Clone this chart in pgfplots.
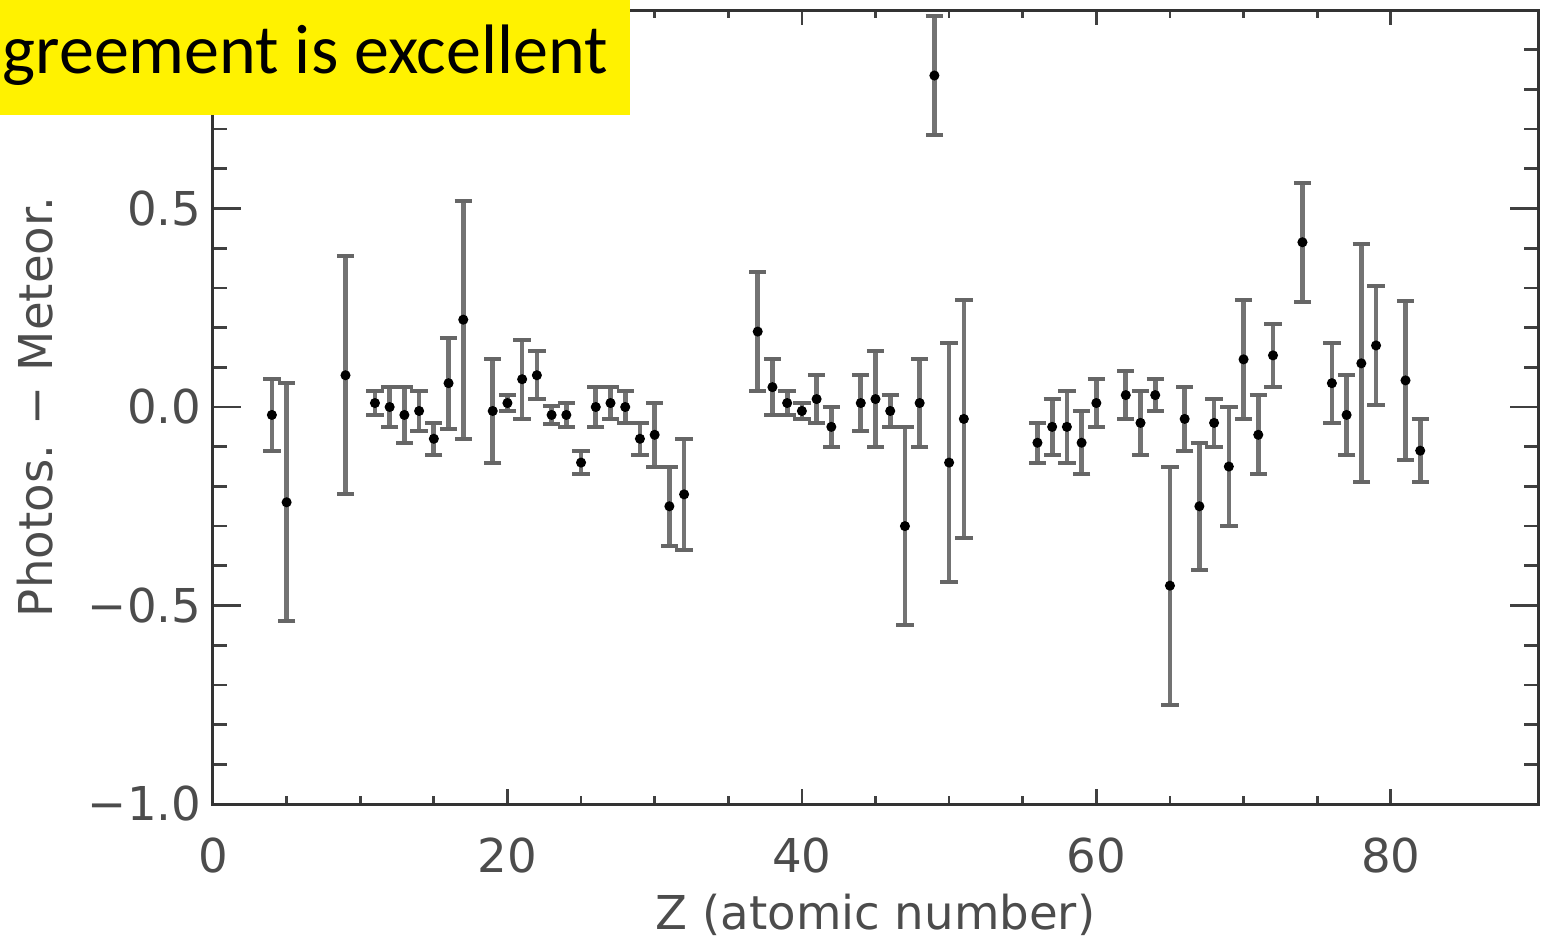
\documentclass[border=0pt]{standalone}
\usepackage{pgfplots}
\usepackage{pgfplotstable}
\pgfplotsset{compat=1.18}
\usepackage{fontspec}
\setmainfont{DejaVu Sans}
\newfontfamily\calibri{Carlito}

% Z, photospheric minus meteoritic abundance, error
\pgfplotstableread{
z d e
4 -0.02 0.09
5 -0.24 0.30
9 0.08 0.30
11 0.01 0.03
12 0.00 0.05
13 -0.02 0.07
14 -0.01 0.05
15 -0.08 0.04
16 0.06 0.115
17 0.22 0.30
19 -0.01 0.13
20 0.01 0.02
21 0.07 0.10
22 0.08 0.06
23 -0.02 0.022
24 -0.02 0.03
25 -0.14 0.03
26 0.00 0.05
27 0.01 0.04
28 0.00 0.04
29 -0.08 0.04
30 -0.07 0.08
31 -0.25 0.10
32 -0.22 0.14
37 0.19 0.15
38 0.05 0.07
39 0.01 0.03
40 -0.01 0.02
41 0.02 0.06
42 -0.05 0.05
44 0.01 0.07
45 0.02 0.12
46 -0.01 0.04
47 -0.30 0.25
48 0.01 0.11
49 0.835 0.15
50 -0.14 0.30
51 -0.03 0.30
56 -0.09 0.05
57 -0.05 0.07
58 -0.05 0.09
59 -0.09 0.08
60 0.01 0.06
62 0.03 0.06
63 -0.04 0.08
64 0.03 0.04
65 -0.45 0.30
66 -0.03 0.08
67 -0.25 0.16
68 -0.04 0.06
69 -0.15 0.15
70 0.12 0.15
71 -0.07 0.10
72 0.13 0.08
74 0.415 0.15
76 0.06 0.10
77 -0.02 0.10
78 0.11 0.30
79 0.155 0.15
81 0.067 0.20
82 -0.11 0.08
}\abund

\begin{document}
\begin{tikzpicture}
\begin{axis}[
    name=ax,
    scale only axis,
    width=397.5pt, height=238.2pt,
    xmin=0, xmax=90, ymin=-1, ymax=1,
    xtick={0,20,40,60,80}, xticklabels={0,20,40,60,80},
    minor x tick num=3,
    ytick={-1,-0.5,0,0.5,1}, yticklabels={−1.0,−0.5,0.0,0.5,{}},
    minor y tick num=4,
    tick align=inside, tick pos=both,
    axis line style={black!80, line width=0.9pt},
    tick style={black!75, line width=0.8pt},
    major tick length=8.4pt, minor tick length=4.2pt,
    xtick style={/pgfplots/major tick length=4.5pt, /pgfplots/minor tick length=2.4pt},
    ticklabel style={font=\fontsize{14}{16}\selectfont, text=black!70},
    xticklabel style={yshift=-6.5pt},
    xlabel={Z (atomic number)},
    ylabel={Photos. − Meteor.},
    label style={font=\fontsize{14}{16}\selectfont, text=black!70},
    xlabel style={at={(axis description cs:0.5,-0.1398)}, anchor=center},
    ylabel style={at={(axis description cs:-0.1343,0.5)}, anchor=center},
]
\addplot[only marks, mark=*, mark size=1.3pt, black,
    error bars/.cd, y dir=both, y explicit,
    error bar style={black!55, line width=1.4pt},
    error mark options={rotate=90, mark size=2.6pt, line width=1.2pt, black!60}]
    table[x=z, y=d, y error=e] {\abund};
\end{axis}
\fill[yellow] ([xshift=-63.9pt,yshift=3pt]ax.north west) rectangle ([xshift=125.1pt,yshift=-31.5pt]ax.north west);
\node[anchor=base west, inner sep=0pt, font=\calibri\fontsize{21}{24}\selectfont]
    at ([xshift=-63.3pt,yshift=-18.9pt]ax.north west) {greement is excellent};
\pgfresetboundingbox
\path ([xshift=-63.9pt,yshift=-40.5pt]ax.south west) rectangle ([xshift=2.4pt,yshift=3pt]ax.north east);
\end{tikzpicture}
\end{document}
